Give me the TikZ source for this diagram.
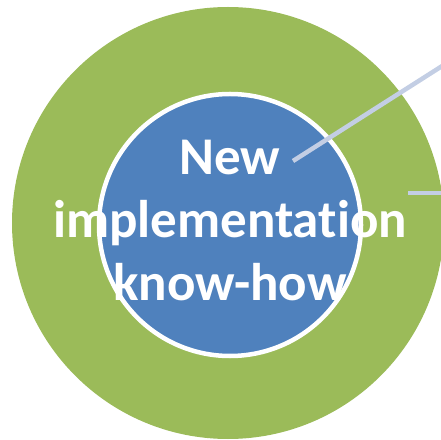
\documentclass[tikz,border=0pt]{standalone}
\usepackage{fontspec}
\setmainfont{Carlito}[Ligatures={NoCommon,NoRare,NoContextual}]
\definecolor{ringgreen}{HTML}{9BBB59}
\definecolor{coreblue}{HTML}{4F81BD}
\definecolor{leadgray}{HTML}{C3CEE4}
\begin{document}
\begin{tikzpicture}[x=1pt,y=1pt,
  leader/.style={leadgray,line width=4.5pt}]
\useasboundingbox (0,0) rectangle (441,439);
\clip (0,0) rectangle (441,439);
\fill[ringgreen] (228,216) circle (216);
\fill[coreblue,draw=white,line width=4.5pt] (230,214) circle (131);
\coordinate (p1) at (293,278);
\coordinate (q1) at (450,378);
\coordinate (p2) at (408,246);
\coordinate (q2) at (450,246);
\draw[leader] (p1) -- (q1);
\draw[leader] (p2) -- (q2);
\node[white,font=\bfseries\fontsize{53}{63}\selectfont,align=center,inner sep=0pt] (core) at (230,218) {New\\implementation\\know-how};
\end{tikzpicture}
\end{document}
